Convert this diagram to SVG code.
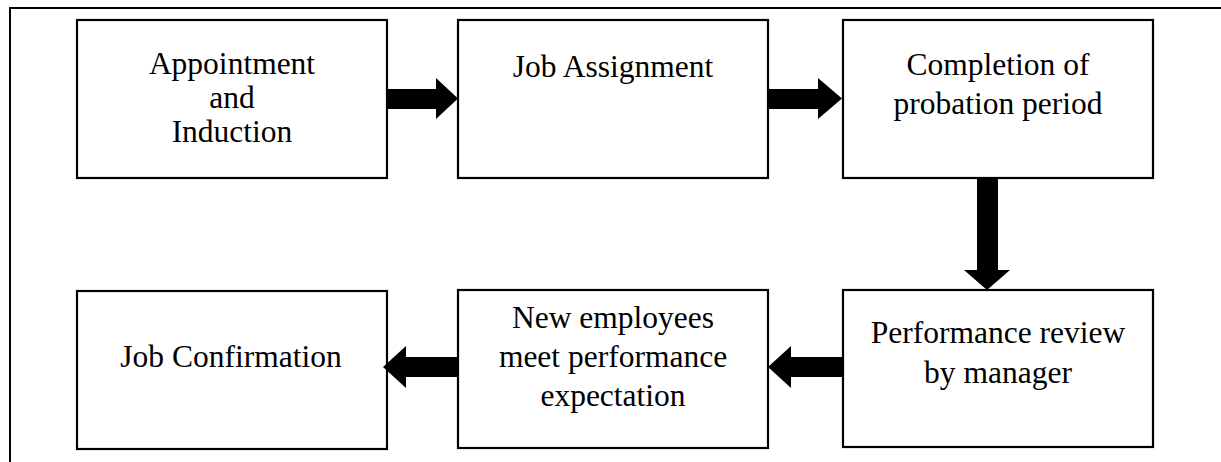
<svg xmlns="http://www.w3.org/2000/svg" width="1221" height="462" viewBox="0 0 1221 462">
<style>
.box{fill:#fff;stroke:#000;stroke-width:2.2}
.t{font-family:"Liberation Serif","Times New Roman",serif;font-size:31.5px;fill:#000;text-anchor:middle}
.arr{fill:#000;stroke:none}
.frame{fill:none;stroke:#000;stroke-width:2}
</style>
<rect width="1221" height="462" fill="#fff"/>
<path class="frame" d="M10 462 V8 H1221"/>
<g id="n1"><rect class="box" x="77" y="20" width="310" height="158"/>
<text class="t" x="232" y="74">Appointment</text><text class="t" x="232" y="108">and</text><text class="t" x="232" y="142">Induction</text></g>
<g id="n2"><rect class="box" x="458" y="20" width="310" height="158"/>
<text class="t" x="613" y="77">Job Assignment</text></g>
<g id="n3"><rect class="box" x="843" y="20" width="310" height="158"/>
<text class="t" x="998" y="75">Completion of</text><text class="t" x="998" y="114">probation period</text></g>
<g id="n4"><rect class="box" x="843" y="290" width="310" height="157"/>
<text class="t" x="998" y="343">Performance review</text><text class="t" x="998" y="383">by manager</text></g>
<g id="n5"><rect class="box" x="458" y="290" width="310" height="158"/>
<text class="t" x="613" y="328">New employees</text><text class="t" x="613" y="367">meet performance</text><text class="t" x="613" y="406">expectation</text></g>
<g id="n6"><rect class="box" x="77" y="291" width="310" height="158"/>
<text class="t" x="231" y="367">Job Confirmation</text></g>
<g id="connectors">
<path class="arr" d="M388 89 H436 V78 L458 98.5 L436 119 V109 H388 Z"/>
<path class="arr" d="M769 89 H818 V78 L842 98.5 L818 119 V109 H769 Z"/>
<path class="arr" d="M977 179 H998 V270 H1010 L987 290 L964 270 H977 Z"/>
<path class="arr" d="M842 357 H791 V346 L768 367 L791 388 V377 H842 Z"/>
<path class="arr" d="M457 357 H406 V346 L383 367 L406 388 V377 H457 Z"/>
</g>
</svg>
